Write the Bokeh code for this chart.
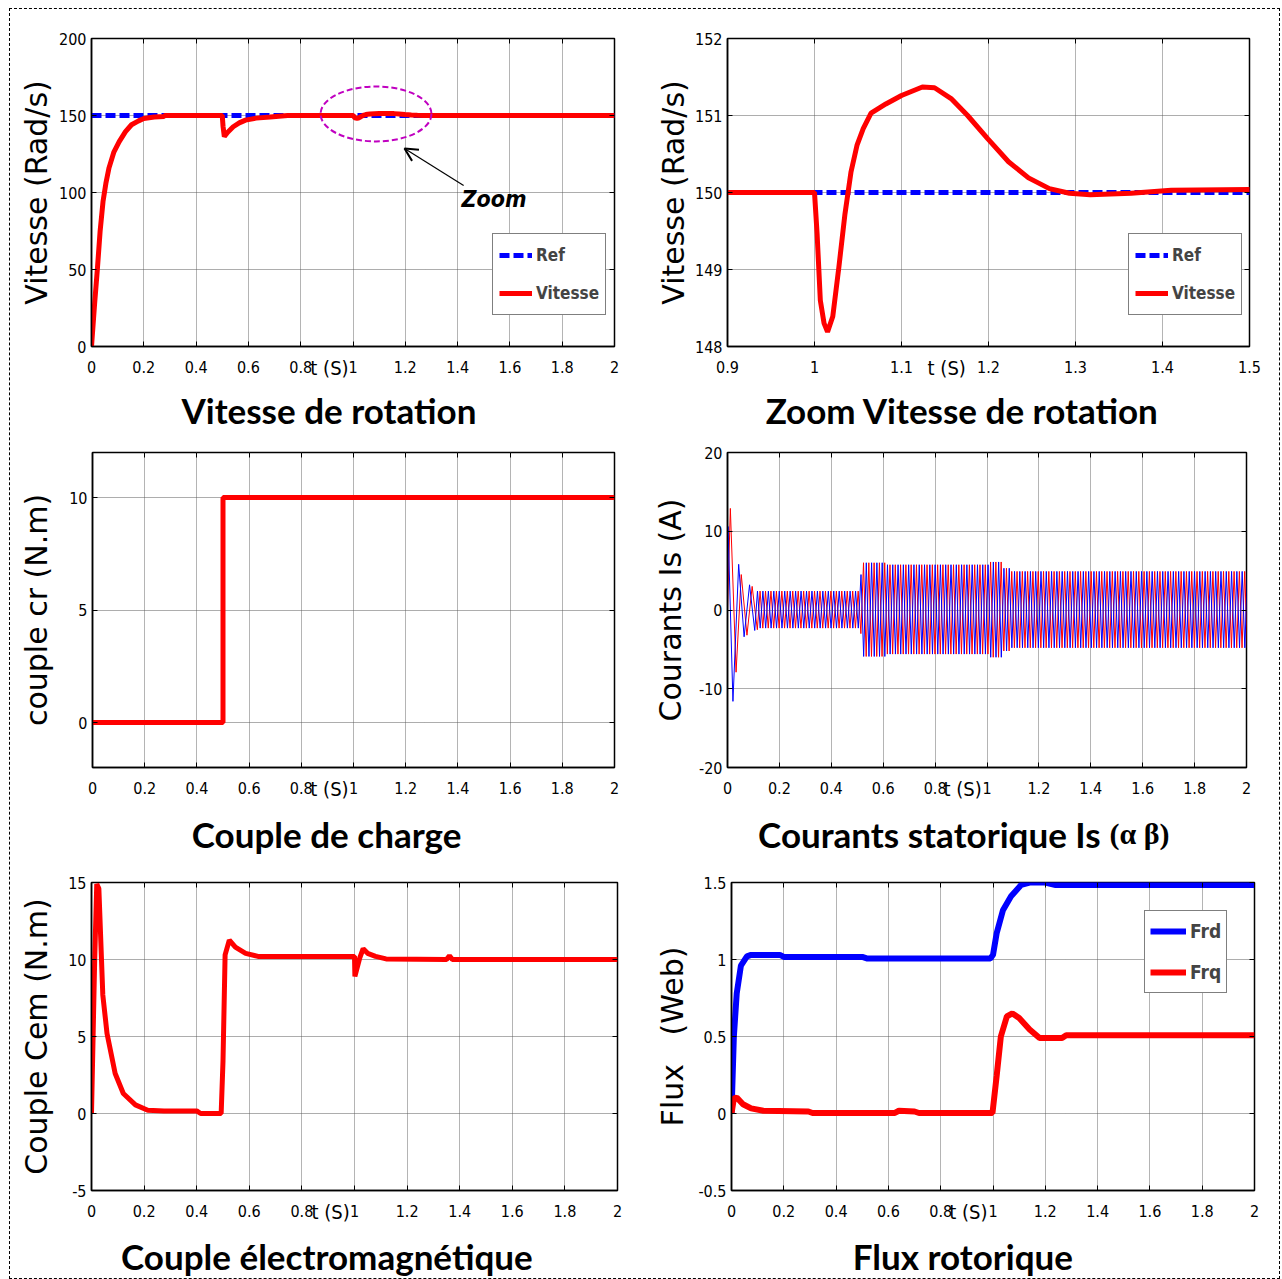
from bokeh.plotting import figure
from bokeh.layouts import column, row
from bokeh.models import (Label, Legend, LegendItem, LinearAxis, FixedTicker,
                          Range1d, Arrow, OpenHead, InlineStyleSheet)
from bokeh.embed import file_html
from bokeh.resources import INLINE

# ------------------------------------------------------------------ data
x_ticks_t = [0, 0.2, 0.4, 0.6, 0.8, 1, 1.2, 1.4, 1.6, 1.8, 2]
x_labels_t = ["0", "0.2", "0.4", "0.6", "0.8", "1", "1.2", "1.4", "1.6", "1.8", "2"]
x_ticks_zoom = [0.9, 1.0, 1.1, 1.2, 1.3, 1.4, 1.5]
x_labels_zoom = ["0.9", "1", "1.1", "1.2", "1.3", "1.4", "1.5"]

y_ticks_speed = [0, 50, 100, 150, 200]
y_labels_speed = ["0", "50", "100", "150", "200"]
y_ticks_zoom = [148, 149, 150, 151, 152]
y_labels_zoom = ["148", "149", "150", "151", "152"]
y_ticks_load = [0, 5, 10]
y_labels_load = ["0", "5", "10"]
y_ticks_is = [-20, -10, 0, 10, 20]
y_labels_is = ["-20", "-10", "0", "10", "20"]
y_ticks_cem = [-5, 0, 5, 10, 15]
y_labels_cem = ["-5", "0", "5", "10", "15"]
y_ticks_flux = [-0.5, 0, 0.5, 1, 1.5]
y_labels_flux = ["-0.5", "0", "0.5", "1", "1.5"]

# speed reference and measured speed (rad/s)
t_ref = [0, 2]
w_ref = [150, 150]
t_speed = [0, 0.012, 0.023, 0.033, 0.044, 0.055, 0.067, 0.085, 0.106, 0.13,
           0.153, 0.18, 0.2, 0.24, 0.277, 0.28, 0.5, 0.503, 0.508, 0.52,
           0.542, 0.565, 0.589, 0.63, 0.683, 0.75, 0.9, 1.0, 1.003, 1.0067,
           1.011, 1.015, 1.021, 1.028, 1.035, 1.042, 1.049, 1.056, 1.065,
           1.082, 1.1, 1.124, 1.138, 1.157, 1.176, 1.199, 1.223, 1.246, 1.27,
           1.293, 1.317, 1.364, 1.41, 1.5, 2.0]
w_speed = [0, 28, 51.5, 75, 94, 106, 116, 126, 133, 139.5,
           144, 146.5, 148, 149, 149.4, 150, 150, 143, 136.3, 139,
           142.7, 145.2, 147, 148.3, 149, 150, 150, 150, 149.46, 148.6,
           148.3, 148.19, 148.39, 149.03, 149.72, 150.27, 150.62, 150.83, 151.03,
           151.15, 151.26, 151.37, 151.36, 151.22, 151.0, 150.7, 150.4, 150.19, 150.05,
           149.99, 149.97, 149.99, 150.03, 150.04, 150.04]

# zoom marker on the speed plot
zoom_ell_x = [1.088]
zoom_ell_y = [151.0]
zoom_ell_w = [0.424]
zoom_ell_h = [35.7]
zoom_arrow = [1.423, 104.5, 1.197, 128.6]   # x_start, y_start, x_end, y_end
zoom_text_xy = [1.415, 95.5]

# load torque (N.m)
t_load = [0, 0.5, 0.5, 2]
cr_load = [0, 0, 10, 10]

# electromagnetic torque (N.m)
t_cem = [0, 0.012, 0.02, 0.028, 0.043, 0.059, 0.09, 0.121, 0.167, 0.214,
         0.276, 0.4, 0.415, 0.493, 0.5, 0.508, 0.524, 0.547, 0.586, 0.633,
         1.0, 1.0015, 1.02, 1.033, 1.05, 1.08, 1.12, 1.35, 1.361, 1.372, 2.0]
cem = [0, 9.9, 14.9, 14.6, 7.7, 5.2, 2.6, 1.3, 0.56, 0.21,
       0.17, 0.17, 0.0, 0.0, 3.4, 10.3, 11.26, 10.8, 10.4, 10.2,
       10.2, 8.9, 10.1, 10.7, 10.4, 10.2, 10.04, 10.0, 10.25, 10.0, 10.0]

# rotor flux (Wb)
t_frd = [0, 0.009, 0.02, 0.036, 0.059, 0.075, 0.185, 0.2, 0.5, 0.52,
         0.99, 1.0, 1.014, 1.038, 1.069, 1.108, 1.14, 1.2, 1.24, 2.0]
frd = [0, 0.5, 0.78, 0.96, 1.02, 1.03, 1.03, 1.017, 1.017, 1.006,
       1.006, 1.03, 1.17, 1.32, 1.41, 1.485, 1.5, 1.5, 1.483, 1.483]
t_frq = [0, 0.009, 0.02, 0.044, 0.075, 0.122, 0.294, 0.31, 0.623, 0.64,
         0.7, 0.717, 0.998, 1.014, 1.03, 1.053, 1.074, 1.1, 1.14, 1.178,
         1.264, 1.28, 2.0]
frq = [0, 0.097, 0.104, 0.06, 0.033, 0.018, 0.013, 0.003, 0.003, 0.018,
       0.013, 0.003, 0.003, 0.244, 0.5, 0.63, 0.65, 0.62, 0.546, 0.49,
       0.49, 0.508, 0.508]

ia_start_t = [0.0, 0.011, 0.033, 0.053, 0.075, 0.095, 0.115]
ia_start_v = [0.0, 12.9, -7.9, 4.5, -3.2, 3.0, -2.5]
ib_start_t = [0.0, 0.002, 0.021, 0.043, 0.064, 0.085, 0.105]
ib_start_v = [0.0, 10.6, -11.6, 5.8, -3.4, 3.2, -2.6]
# ... then the envelope of each stretch: end time, + peak, - peak, half period
seg_end = [0.5, 0.512, 0.6, 1.0, 1.045, 1.085, 2.05]
seg_pos = [2.4, 4.5, 6.0, 5.75, 6.1, 5.3, 4.9]
seg_neg = [-2.3, -3.0, -5.9, -5.6, -6.0, -5.2, -4.8]
seg_half = [0.0105, 0.0105, 0.0102, 0.0102, 0.0102, 0.0102, 0.0102]


def extrema(t0, v0):
    ts, vs = list(t0), list(v0)
    t, sign = ts[-1], (1 if vs[-1] < 0 else -1)
    k = 0
    while t < 2.02:
        while k < len(seg_end) - 1 and t > seg_end[k]:
            k += 1
        t = t + seg_half[k]
        ts.append(t)
        vs.append(seg_pos[k] if sign > 0 else seg_neg[k])
        sign = -sign
    return ts, vs


ia_t, ia_v = extrema(ia_start_t, ia_start_v)
ib_t, ib_v = extrema(ib_start_t, ib_start_v)

# ------------------------------------------------------------------ style
TICK_FONT = "DejaVu Sans Condensed, Liberation Sans, sans-serif"
YLAB_FONT = "DejaVu Sans"
TITLE_FONT = "Lato"
TITLE_SIZE = 35
RED = "#ff0000"
BLUE = "#0000ff"


def make_fig(w, h, bl, br, bt, bb, xr, yr, xt, xl, yt, yl, ylab, ylab_standoff):
    p = figure(width=w, height=h,
               min_border_left=bl, min_border_right=br,
               min_border_top=bt, min_border_bottom=bb,
               x_range=Range1d(*xr), y_range=Range1d(*yr),
               output_backend="svg", toolbar_location=None,
               background_fill_color="white", border_fill_color="white",
               outline_line_color="black", outline_line_width=1.5)
    for ax, ticks, labels in [(p.xaxis[0], xt, xl), (p.yaxis[0], yt, yl)]:
        ax.ticker = FixedTicker(ticks=ticks)
        ax.major_label_overrides = dict(zip(ticks, labels))
        ax.major_tick_in = 5
        ax.major_tick_out = 0
        ax.major_tick_line_color = "black"
        ax.minor_tick_line_color = None
        ax.axis_line_color = "black"
        ax.axis_line_width = 1.5
        ax.major_label_text_font = TICK_FONT
        ax.major_label_text_font_size = "16px"
        ax.major_label_text_color = "black"
    p.xaxis[0].major_label_standoff = 14
    p.yaxis[0].major_label_standoff = 5
    yax = p.yaxis[0]
    yax.axis_label = ylab
    yax.axis_label_text_font = YLAB_FONT
    yax.axis_label_text_font_size = "30px"
    yax.axis_label_text_font_style = "normal"
    yax.axis_label_text_color = "black"
    yax.axis_label_standoff = ylab_standoff
    for loc, ticks in [("above", xt), ("right", yt)]:
        ax = LinearAxis(ticker=FixedTicker(ticks=ticks),
                        major_label_text_color=None,
                        major_label_text_font_size="1px",
                        major_tick_in=5, major_tick_out=0,
                        major_tick_line_color="black",
                        minor_tick_line_color=None, axis_line_color=None,
                        major_label_standoff=0)
        p.add_layout(ax, loc)
    p.xgrid.ticker = FixedTicker(ticks=xt)
    p.ygrid.ticker = FixedTicker(ticks=yt)
    p.xgrid.grid_line_color = "#b4b4b4"
    p.ygrid.grid_line_color = "#5a5a5a"
    p.ygrid.grid_line_dash = "1 1"
    return p


def below_text(p, x, text, font, size, standoff, style="normal"):
    """A single-tick axis stacked under the plot, used to write the time
    unit or the panel caption below the frame."""
    ax = LinearAxis(ticker=FixedTicker(ticks=[x]),
                    major_label_overrides={x: text},
                    major_label_text_font=font,
                    major_label_text_font_size=f"{size}px",
                    major_label_text_font_style=style,
                    major_label_text_color="black",
                    major_label_standoff=standoff,
                    major_tick_in=0, major_tick_out=0,
                    major_tick_line_color=None, minor_tick_line_color=None,
                    axis_line_color=None)
    p.add_layout(ax, "below")


def decorate(p, ts_x, title_x, title, title_standoff):
    below_text(p, ts_x, "t (S)", TICK_FONT, 20, -20)
    if title:
        below_text(p, title_x, title, TITLE_FONT, TITLE_SIZE, title_standoff,
                   style="bold")


def make_legend(p, items, loc, font_size, gw, gh, spacing, padding):
    leg = Legend(items=[LegendItem(label=l, renderers=[r]) for l, r in items],
                 location=loc, margin=0, padding=padding, spacing=spacing,
                 glyph_width=gw, glyph_height=gh, label_height=gh,
                 label_standoff=4, label_text_font=TICK_FONT,
                 label_text_font_size=f"{font_size}px",
                 label_text_font_style="bold",
                 border_line_color="black", border_line_width=1.5,
                 background_fill_color="white", background_fill_alpha=1)
    p.add_layout(leg)


# ------------------------------------------------------------------ panel 1
p1 = make_fig(640, 436, 91, 26, 38, 90, (0, 2), (0, 200),
              x_ticks_t, x_labels_t, y_ticks_speed, y_labels_speed,
              "Vitesse (Rad/s)", 2)
r_ref1 = p1.line(t_ref, w_ref, color=BLUE, line_width=5, line_dash="10 4")
r_vit1 = p1.line(t_speed, w_speed, color=RED, line_width=5)
p1.ellipse(x=zoom_ell_x, y=zoom_ell_y, width=zoom_ell_w, height=zoom_ell_h,
           fill_color=None, line_color="#c000c0", line_width=2, line_dash="6 3")
p1.add_layout(Arrow(x_start=zoom_arrow[0], y_start=zoom_arrow[1],
                    x_end=zoom_arrow[2], y_end=zoom_arrow[3],
                    line_color="black", line_width=1.2,
                    end=OpenHead(size=13, line_width=2, line_color="black")))
p1.add_layout(Label(x=zoom_text_xy[0], y=zoom_text_xy[1], text="Zoom",
                    text_font=TICK_FONT, text_font_size="23px",
                    text_font_style="bold italic", text_baseline="middle",
                    text_align="left", text_color="black"))
make_legend(p1, [("Ref", r_ref1), ("Vitesse", r_vit1)], (401, 31), 17, 33, 30, 8, 6)
decorate(p1, 0.910, 0.908, "Vitesse de rotation", 6)

# ------------------------------------------------------------------ panel 2
p2 = make_fig(642, 436, 87, 33, 38, 90, (0.9, 1.5), (148, 152),
              x_ticks_zoom, x_labels_zoom, y_ticks_zoom, y_labels_zoom,
              "Vitesse (Rad/s)", 1)
r_ref2 = p2.line(t_ref, w_ref, color=BLUE, line_width=5, line_dash="10 4")
r_vit2 = p2.line(t_speed, w_speed, color=RED, line_width=5)
make_legend(p2, [("Ref", r_ref2), ("Vitesse", r_vit2)], (401, 31), 17, 33, 30, 8, 6)
decorate(p2, 1.152, 1.170, "Zoom Vitesse de rotation", 6)

# ------------------------------------------------------------------ panel 3
p3 = make_fig(640, 423, 92, 26, 16, 92, (0, 2), (-2, 12),
              x_ticks_t, x_labels_t, y_ticks_load, y_labels_load,
              "couple cr (N.m)", 12)
p3.line(t_load, cr_load, color=RED, line_width=5)
decorate(p3, 0.908, 0.897, "Couple de charge", 9)

# ------------------------------------------------------------------ panel 4
p4 = make_fig(642, 423, 87, 36, 14, 92, (0, 2), (-20, 20),
              x_ticks_t, x_labels_t, y_ticks_is, y_labels_is,
              "Courants Is (A)", 8)
p4.line(ia_t, ia_v, color=RED, line_width=1)
p4.line(ib_t, ib_v, color=BLUE, line_width=1)
decorate(p4, 0.906, None, None, 0)
below_text(p4, 0.778, "Courants statorique Is", TITLE_FONT, TITLE_SIZE, 9,
           style="bold")
below_text(p4, 1.588, "(\u03b1 \u03b2)", "Liberation Serif", 30, -41, style="bold")

# ------------------------------------------------------------------ panel 5
p5 = make_fig(640, 420, 91, 23, 20, 87, (0, 2), (-5, 15),
              x_ticks_t, x_labels_t, y_ticks_cem, y_labels_cem,
              "Couple Cem (N.m)", 11)
p5.line(t_cem, cem, color=RED, line_width=5)
decorate(p5, 0.909, 0.895, "Couple électromagnétique", 8)

# ------------------------------------------------------------------ panel 6
p6 = make_fig(642, 420, 91, 28, 23, 87, (0, 2), (-0.5, 1.5),
              x_ticks_t, x_labels_t, y_ticks_flux, y_labels_flux,
              "Flux\u00a0\u00a0 (Web)", 5)
r_frd = p6.line(t_frd, frd, color=BLUE, line_width=6)
r_frq = p6.line(t_frq, frq, color=RED, line_width=6)
make_legend(p6, [("Frd", r_frd), ("Frq", r_frq)], (413, 197), 19, 36, 30, 11, 5)
decorate(p6, 0.906, 0.885, "Flux rotorique", 8)

border_css = InlineStyleSheet(css="""
:host { position: relative; }
:host::after { content: ''; position: absolute; left: 9px; top: 8px;
  width: 1269px; height: 1269px; border: 1px dashed #000;
  pointer-events: none; z-index: 100; }
""")
layout = column(row(p1, p2), row(p3, p4), row(p5, p6), stylesheets=[border_css])

open("out.html", "w").write(file_html(layout, INLINE))
